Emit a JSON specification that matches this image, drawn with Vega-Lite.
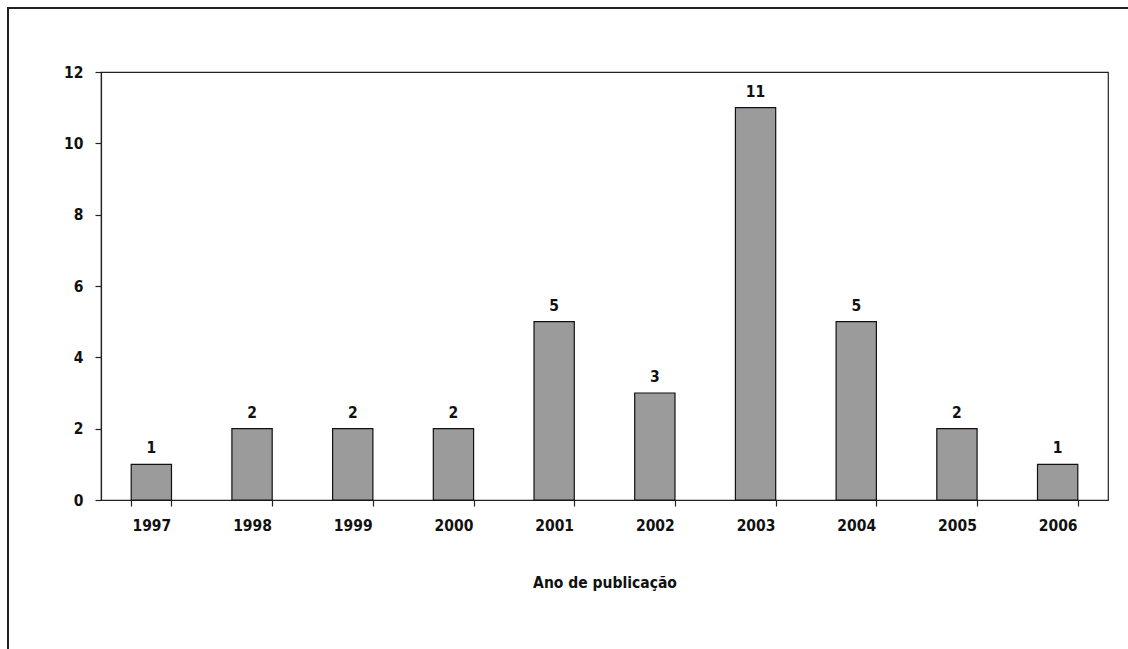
{
  "$schema": "https://vega.github.io/schema/vega-lite/v6.json",
  "width": 1007,
  "height": 428,
  "autosize": {"type": "none"},
  "padding": {"left": 101, "top": 72, "right": 20, "bottom": 149},
  "background": "white",
  "config": {
    "font": "DejaVu Sans Condensed, sans-serif",
    "view": {"stroke": "#222222", "strokeWidth": 1.2},
    "axis": {
      "labelFont": "DejaVu Sans Condensed, sans-serif",
      "titleFont": "DejaVu Sans Condensed, sans-serif",
      "labelFontWeight": "bold",
      "titleFontWeight": "bold",
      "labelColor": "#111111",
      "titleColor": "#111111",
      "domainColor": "#222222",
      "tickColor": "#222222",
      "labelFontSize": 15.5,
      "titleFontSize": 15.5
    }
  },
  "data": {
    "values": [
      {"ano": "1997", "n": 1},
      {"ano": "1998", "n": 2},
      {"ano": "1999", "n": 2},
      {"ano": "2000", "n": 2},
      {"ano": "2001", "n": 5},
      {"ano": "2002", "n": 3},
      {"ano": "2003", "n": 11},
      {"ano": "2004", "n": 5},
      {"ano": "2005", "n": 2},
      {"ano": "2006", "n": 1}
    ]
  },
  "resolve": {"scale": {"x": "independent"}, "axis": {"x": "independent"}},
  "layer": [
    {
      "mark": {"type": "rect", "fill": null, "fillOpacity": 0, "stroke": "#222222", "strokeWidth": 1.5},
      "encoding": {
        "x": {"datum": -0.0924, "type": "quantitative", "scale": {"domain": [0, 1], "nice": false, "zero": false}, "axis": null},
        "x2": {"datum": 1.3},
        "y": {"datum": 13.794, "type": "quantitative"},
        "y2": {"datum": -5}
      }
    },
    {
      "layer": [
        {
          "mark": {"type": "bar", "color": "#9b9b9b", "stroke": "#111111", "strokeWidth": 1.2},
          "encoding": {
            "x": {
              "field": "ano",
              "type": "ordinal",
              "scale": {"paddingInner": 0.6, "paddingOuter": 0.3},
              "axis": {
                "title": "Ano de publicação",
                "labelAngle": 0,
                "tickBand": "extent",
                "tickSize": 6,
                "labelPadding": 12,
                "titlePadding": 42,
                "domainWidth": 1.2,
                "tickWidth": 1.2
              }
            },
            "y": {
              "field": "n",
              "type": "quantitative",
              "scale": {"domain": [0, 12]},
              "axis": {
                "title": null,
                "values": [0, 2, 4, 6, 8, 10, 12],
                "tickSize": 6,
                "labelPadding": 12,
                "gridColor": "#777777",
                "gridDash": [3, 3],
                "gridWidth": 1,
                "gridOpacity": {"condition": {"test": "datum.value === 12", "value": 0}, "value": 1},
                "domainWidth": 1.2,
                "tickWidth": 1.2
              }
            }
          }
        },
        {
          "mark": {"type": "text", "baseline": "bottom", "dy": -8, "fontWeight": "bold", "fontSize": 15.5, "color": "#111111"},
          "encoding": {
            "x": {"field": "ano", "type": "ordinal"},
            "y": {"field": "n", "type": "quantitative"},
            "text": {"field": "n", "type": "quantitative"}
          }
        }
      ]
    }
  ]
}
